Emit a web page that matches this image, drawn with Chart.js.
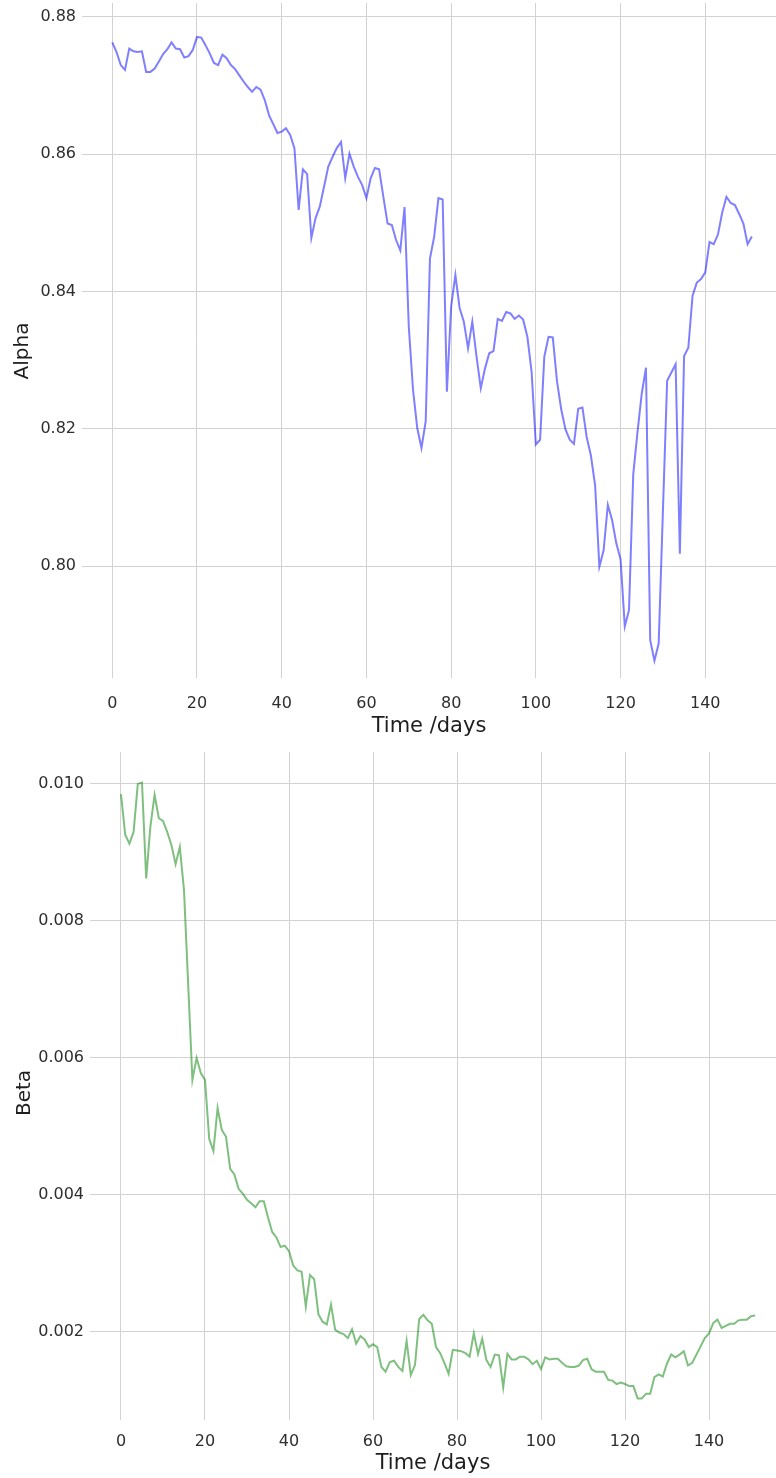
<!DOCTYPE html>
<html>
<head>
<meta charset="utf-8">
<script src="https://cdn.jsdelivr.net/npm/chart.js@4.4.1/dist/chart.umd.min.js"></script>
<style>
  html, body { margin: 0; padding: 0; background: #ffffff; }
  canvas { display: block; }
</style>
</head>
<body>
<canvas id="alphaChart" width="776" height="740"></canvas>
<canvas id="betaChart" width="776" height="738"></canvas>
<script>
// ---- data ----
const days = [0,1,2,3,4,5,6,7,8,9,10,11,12,13,14,15,16,17,18,19,20,21,22,23,24,25,26,27,28,29,30,31,32,33,34,35,36,37,38,39,40,41,42,43,44,45,46,47,48,49,50,51,52,53,54,55,56,57,58,59,60,61,62,63,64,65,66,67,68,69,70,71,72,73,74,75,76,77,78,79,80,81,82,83,84,85,86,87,88,89,90,91,92,93,94,95,96,97,98,99,100,101,102,103,104,105,106,107,108,109,110,111,112,113,114,115,116,117,118,119,120,121,122,123,124,125,126,127,128,129,130,131,132,133,134,135,136,137,138,139,140,141,142,143,144,145,146,147,148,149,150,151];

const alphaValues = [
0.8763,0.8749,0.8730,0.8723,0.8754,0.8750,0.8749,0.8750,0.8720,0.8720,
0.8725,0.8735,0.8746,0.8753,0.8763,0.8754,0.8753,0.8741,0.8743,0.8752,
0.8771,0.8770,0.8759,0.8747,0.8733,0.8730,0.8745,0.8740,0.8730,0.8724,
0.8715,0.8706,0.8698,0.8691,0.8698,0.8694,0.8679,0.8657,0.8644,0.8631,
0.8633,0.8638,0.8628,0.8609,0.8519,0.8578,0.8571,0.8478,0.8507,0.8524,
0.8553,0.8582,0.8596,0.8609,0.8618,0.8565,0.8601,0.8582,0.8567,0.8555,
0.8536,0.8565,0.8580,0.8578,0.8538,0.8499,0.8497,0.8475,0.8460,0.8523,
0.8349,0.8257,0.8201,0.8172,0.8211,0.8448,0.8480,0.8536,0.8534,0.8254,
0.8378,0.8424,0.8376,0.8356,0.8317,0.8356,0.8305,0.8259,0.8288,0.8310,
0.8313,0.8360,0.8357,0.8370,0.8368,0.8360,0.8365,0.8359,0.8334,0.8283,
0.8177,0.8184,0.8305,0.8334,0.8333,0.8269,0.8228,0.8199,0.8184,0.8178,
0.8229,0.8231,0.8188,0.8161,0.8117,0.7999,0.8023,0.8089,0.8067,0.8033,
0.8010,0.7912,0.7936,0.8134,0.8195,0.8251,0.8289,0.7892,0.7862,0.7887,
0.8080,0.8270,0.8282,0.8294,0.8018,0.8306,0.8318,0.8394,0.8413,0.8418,
0.8428,0.8472,0.8469,0.8483,0.8515,0.8538,0.8529,0.8526,0.8513,0.8499,
0.8469,0.8480];

const betaValues = [
0.00985,0.00926,0.00913,0.00930,0.01000,0.01002,0.00862,0.00938,0.00984,0.00950,
0.00946,0.00930,0.00911,0.00883,0.00908,0.00845,0.00707,0.00568,0.00600,0.00578,
0.00568,0.00482,0.00464,0.00527,0.00495,0.00485,0.00438,0.00430,0.00409,0.00402,
0.00393,0.00388,0.00382,0.00391,0.00391,0.00367,0.00346,0.00338,0.00324,0.00326,
0.00318,0.00297,0.00290,0.00288,0.00237,0.00283,0.00277,0.00226,0.00215,0.00211,
0.00240,0.00203,0.00199,0.00197,0.00191,0.00204,0.00183,0.00194,0.00189,0.00178,
0.00182,0.00178,0.00149,0.00142,0.00156,0.00158,0.00149,0.00143,0.00187,0.00137,
0.00152,0.00219,0.00225,0.00217,0.00212,0.00178,0.00169,0.00155,0.00139,0.00174,
0.00173,0.00172,0.00169,0.00164,0.00198,0.00168,0.00190,0.00159,0.00149,0.00167,
0.00166,0.00119,0.00168,0.00160,0.00160,0.00164,0.00164,0.00160,0.00153,0.00158,
0.00146,0.00163,0.00160,0.00161,0.00161,0.00155,0.00150,0.00149,0.00149,0.00151,
0.00159,0.00161,0.00146,0.00142,0.00142,0.00142,0.00130,0.00129,0.00124,0.00126,
0.00124,0.00121,0.00121,0.00103,0.00103,0.00110,0.00110,0.00134,0.00138,0.00135,
0.00154,0.00167,0.00163,0.00167,0.00172,0.00151,0.00155,0.00167,0.00179,0.00191,
0.00198,0.00213,0.00218,0.00206,0.00209,0.00212,0.00212,0.00217,0.00218,0.00218,
0.00223,0.00224];

const xTickValues = [0,20,40,60,80,100,120,140];
const alphaTickValues = [0.80,0.82,0.84,0.86,0.88];
const betaTickValues = [0.002,0.004,0.006,0.008,0.010];

// ---- styling / layout ----
const FONT = 'DejaVu Sans';
const GRID = '#d2d2d2';
const TICK_COLOR = '#2e2e2e';
const TITLE_COLOR = '#1e1e1e';

// Draws the rotated y-axis title at a set position (Plotly-like placement)
const yTitlePlugin = {
  id: 'yTitle',
  afterDraw(chart, args, opts) {
    const ctx = chart.ctx;
    ctx.save();
    ctx.translate(opts.x, opts.y);
    ctx.rotate(-Math.PI / 2);
    ctx.fillStyle = TITLE_COLOR;
    ctx.font = '20px "' + FONT + '"';
    ctx.textAlign = 'center';
    ctx.textBaseline = 'middle';
    ctx.fillText(opts.text, 0, 0);
    ctx.restore();
  }
};

function makeChart(canvasId, cfg) {
  return new Chart(document.getElementById(canvasId), {
    type: 'line',
    data: {
      labels: days,
      datasets: [{
        data: cfg.values,
        borderColor: cfg.color,
        borderWidth: 2,
        pointRadius: 0,
        tension: 0,
        fill: false
      }]
    },
    plugins: [yTitlePlugin],
    options: {
      responsive: false,
      animation: false,
      devicePixelRatio: 1,
      layout: { padding: { top: cfg.padTop, left: 0, right: 0, bottom: 0 } },
      plugins: {
        legend: { display: false },
        tooltip: { enabled: false },
        yTitle: { text: cfg.yTitle, x: cfg.yTitleX, y: cfg.yTitleY }
      },
      scales: {
        x: {
          type: 'linear',
          min: cfg.xMin,
          max: cfg.xMax,
          afterBuildTicks: s => { s.ticks = xTickValues.map(v => ({ value: v })); },
          afterFit: s => { s.height = cfg.xAxisH; s.paddingLeft = 0; s.paddingRight = 0; },
          grid: { color: GRID, lineWidth: 1, drawTicks: false },
          border: { display: false },
          ticks: {
            autoSkip: false, maxRotation: 0, padding: cfg.xTickPad,
            color: TICK_COLOR, font: { family: FONT, size: 16 },
            callback: v => String(v)
          },
          title: {
            display: true, text: 'Time /days', color: TITLE_COLOR,
            font: { family: FONT, size: 21 },
            padding: { top: 0, bottom: cfg.xTitlePad }
          }
        },
        y: {
          type: 'linear',
          min: cfg.yMin,
          max: cfg.yMax,
          afterBuildTicks: s => { s.ticks = cfg.yTicks.map(v => ({ value: v })); },
          afterFit: s => { s.width = cfg.yAxisW; s.paddingTop = 0; s.paddingBottom = 0; },
          grid: { color: GRID, lineWidth: 1, drawTicks: false },
          border: { display: false },
          ticks: {
            padding: 6, color: TICK_COLOR, font: { family: FONT, size: 16 },
            callback: v => v.toFixed(cfg.decimals)
          },
          title: { display: false }
        }
      }
    }
  });
}

makeChart('alphaChart', {
  values: alphaValues, color: 'rgba(0,0,255,0.5)',
  yTicks: alphaTickValues, decimals: 2, yTitle: 'Alpha', yTitleX: 23, yTitleY: 351,
  xMin: -7.15, xMax: 156.7, yMin: 0.78368, yMax: 0.88204,
  padTop: 3, xAxisH: 62, yAxisW: 82, xTickPad: 16, xTitlePad: 1
});

makeChart('betaChart', {
  values: betaValues, color: 'rgba(0,128,0,0.5)',
  yTicks: betaTickValues, decimals: 3, yTitle: 'Beta', yTitleX: 25, yTitleY: 353,
  xMin: -7.38, xMax: 155.95, yMin: 0.000715, yMax: 0.010467,
  padTop: 12, xAxisH: 58, yAxisW: 90, xTickPad: 12, xTitlePad: 2
});
</script>
</body>
</html>
